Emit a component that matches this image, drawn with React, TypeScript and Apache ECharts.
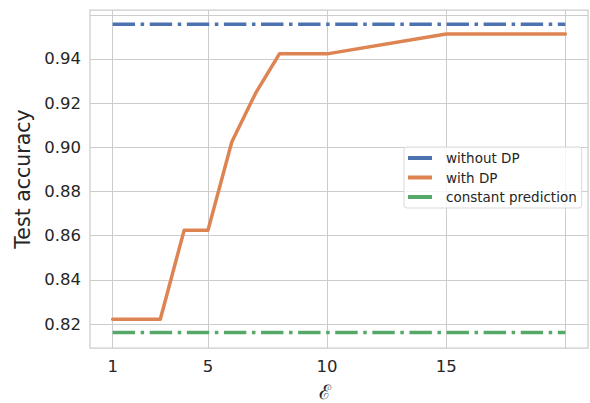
import React, { useEffect, useRef } from "react";
import * as echarts from "echarts";

const epsilonValues = [1, 2, 3, 4, 5, 6, 7, 8, 9, 10, 15, 20];
const withDP = [0.8222, 0.8222, 0.8222, 0.8624, 0.8624, 0.9024, 0.9245, 0.9423, 0.9423, 0.9423, 0.9513, 0.9513];
const withoutDPValue = 0.9557;
const constantValue = 0.8162;
const xTickValues = [1, 5, 10, 15, 20];
const xLabelValues = [1, 5, 10, 15];
const yTickValues = [0.82, 0.84, 0.86, 0.88, 0.9, 0.92, 0.94, 0.96];
const yLabelValues = [0.82, 0.84, 0.86, 0.88, 0.9, 0.92, 0.94];
const seriesNames = ["without DP", "with DP", "constant prediction"];
const colors = ["#4c72b0", "#dd8452", "#55a868"];

const FONT = "DejaVu Sans";
const dashDot = [22.4, 5.6, 3.5, 5.6];

export default function App() {
  const ref = useRef<HTMLDivElement>(null);
  useEffect(() => {
    if (!ref.current) return;
    const chart = echarts.init(ref.current, null, { renderer: "svg" });
    const xFirst = epsilonValues[0];
    const xLast = epsilonValues[epsilonValues.length - 1];
    chart.setOption({
      animation: false,
      textStyle: { fontFamily: FONT },
      grid: {
        left: 90,
        right: 2,
        top: 10,
        bottom: 55,
        show: true,
        borderColor: "#cccccc",
        borderWidth: 1.25,
        containLabel: false,
        outerBoundsMode: "none",
      },
      legend: {
        orient: "vertical",
        left: 404,
        top: 147,
        padding: [4, 5, 4, 4],
        itemGap: 5.5,
        itemWidth: 24,
        itemHeight: 4,
        icon: "rect",
        backgroundColor: "rgba(255,255,255,0.8)",
        borderColor: "#d9d9d9",
        borderWidth: 1,
        borderRadius: 3,
        textStyle: { fontFamily: FONT, fontSize: 13.5, lineHeight: 14, color: "#262626", padding: [0, 0, 0, 9] },
        data: seriesNames,
      },
      xAxis: {
        type: "value",
        min: 0.05,
        max: 20.95,
        name: "\u2130",
        nameLocation: "middle",
        nameGap: 35,
        nameTextStyle: { fontFamily: "DejaVu Serif", fontSize: 20, lineHeight: 18, color: "#262626", padding: [0, 28, 0, 0] },
        axisLine: { show: false },
        axisTick: { show: false, customValues: xTickValues },
        axisLabel: { customValues: xLabelValues, fontSize: 16.5, color: "#262626", margin: 10, fontFamily: FONT },
        splitLine: { show: true, lineStyle: { color: "#cccccc", width: 1 } },
      },
      yAxis: {
        type: "value",
        min: 0.80915,
        max: 0.96216,
        name: "Test accuracy",
        nameLocation: "middle",
        nameGap: 57,
        nameTextStyle: { fontFamily: FONT, fontSize: 20.5, color: "#262626" },
        axisLine: { show: false },
        axisTick: { show: false, customValues: yTickValues },
        axisLabel: {
          customValues: yLabelValues,
          fontSize: 16.5,
          color: "#262626",
          margin: 9,
          fontFamily: FONT,
          formatter: (v: number) => v.toFixed(2),
        },
        splitLine: { show: true, lineStyle: { color: "#cccccc", width: 1 } },
      },
      series: [
        {
          name: seriesNames[0],
          type: "line",
          symbol: "none",
          data: [[xFirst, withoutDPValue], [xLast, withoutDPValue]],
          lineStyle: { color: colors[0], width: 3.5, type: dashDot, cap: "butt" },
          itemStyle: { color: colors[0] },
        },
        {
          name: seriesNames[1],
          type: "line",
          symbol: "none",
          data: epsilonValues.map((x, i) => [x, withDP[i]]),
          lineStyle: { color: colors[1], width: 3.5, cap: "round", join: "round" },
          itemStyle: { color: colors[1] },
        },
        {
          name: seriesNames[2],
          type: "line",
          symbol: "none",
          data: [[xFirst, constantValue], [xLast, constantValue]],
          lineStyle: { color: colors[2], width: 3.5, type: dashDot, cap: "butt" },
          itemStyle: { color: colors[2] },
        },
      ],
    });
    return () => chart.dispose();
  }, []);
  return <div ref={ref} style={{ width: 590, height: 403, position: "absolute", left: 0, top: 0 }} />;
}
